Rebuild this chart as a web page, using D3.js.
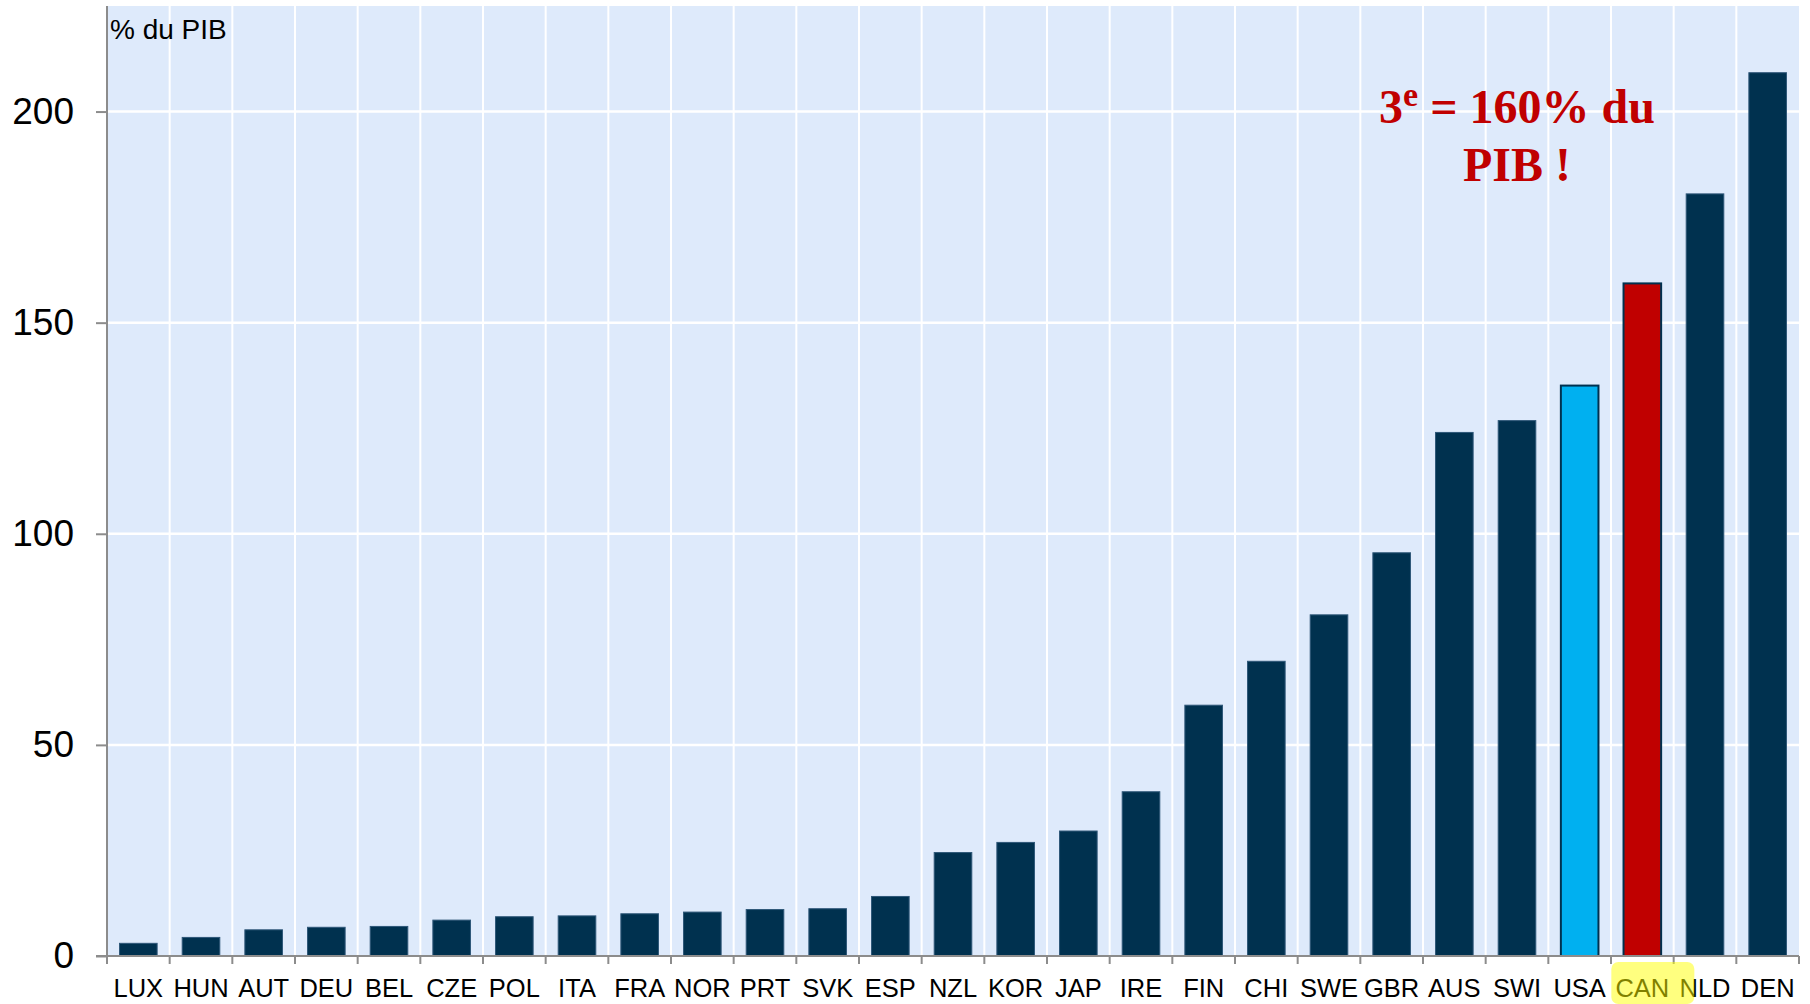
<!DOCTYPE html>
<html>
<head>
  <meta charset="utf-8">
  <script src="https://d3js.org/d3.v7.min.js"></script>
  <style>
    body { margin: 0; background: #fff; }
    svg { display: block; font-family: "Liberation Sans", Arial, sans-serif; }
  </style>
</head>
<body>
  <script>
    // data (% du PIB)
    var countries = ['LUX', 'HUN', 'AUT', 'DEU', 'BEL', 'CZE', 'POL', 'ITA', 'FRA', 'NOR', 'PRT', 'SVK', 'ESP',
      'NZL', 'KOR', 'JAP', 'IRE', 'FIN', 'CHI', 'SWE', 'GBR', 'AUS', 'SWI', 'USA', 'CAN', 'NLD', 'DEN'];
    var values = [3.0, 4.4, 6.2, 6.8, 7.0, 8.5, 9.3, 9.5, 10.0, 10.4, 11.0, 11.2, 14.1,
      24.5, 26.9, 29.6, 38.9, 59.4, 69.8, 80.8, 95.5, 124.0, 126.8, 135.1, 159.3, 180.5, 209.2];
    var yTicks = [0, 50, 100, 150, 200];
    var unitLabel = '% du PIB';
    var noteLine1 = ['3', 'e', ' = 160% du'];
    var noteLine2 = 'PIB !';
    var markedCountry = 'CAN';

    var outerWidth = 1810,
      outerHeight = 1004;

    var margin = { top: 6, left: 107, right: 11, bottom: 48 };
    var width = outerWidth - margin.left - margin.right,
      height = outerHeight - margin.top - margin.bottom;

    var data = countries.map(function(c, i) { return { name: c, value: values[i] }; });

    var xScale = d3.scaleBand()
      .domain(countries)
      .range([0, width])
      .paddingInner(0.4)
      .paddingOuter(0.2);

    var yScale = d3.scaleLinear()
      .domain([0, 225])
      .range([height, 0]);

    function barColor(d) {
      if (d.name === 'USA') return '#00b0f0';
      if (d.name === 'CAN') return '#c00000';
      return '#00314f';
    }

    var svg = d3.select('body').append('svg')
      .attr('width', outerWidth)
      .attr('height', outerHeight);

    var g = svg.append('g')
      .attr('transform', 'translate(' + margin.left + ',' + margin.top + ')');

    // plot background
    g.append('rect')
      .attr('width', width)
      .attr('height', height)
      .attr('fill', '#deeafb');

    // band boundaries for vertical grid + ticks
    var step = xScale.step();
    var bounds = d3.range(countries.length + 1).map(function(i) { return i * step; });

    g.selectAll('.vgrid').data(bounds.slice(1, -1)).enter().append('line')
      .attr('x1', function(d) { return d; })
      .attr('x2', function(d) { return d; })
      .attr('y1', 0).attr('y2', height)
      .attr('stroke', '#fff').attr('stroke-width', 2);

    g.selectAll('.hgrid').data(yTicks.slice(1)).enter().append('line')
      .attr('x1', 0).attr('x2', width)
      .attr('y1', function(d) { return yScale(d); })
      .attr('y2', function(d) { return yScale(d); })
      .attr('stroke', '#fff').attr('stroke-width', 2.5);

    // bars
    g.selectAll('.bar').data(data).enter().append('rect')
      .attr('x', function(d) { return xScale(d.name); })
      .attr('y', function(d) { return yScale(d.value); })
      .attr('width', xScale.bandwidth())
      .attr('height', function(d) { return height - yScale(d.value); })
      .attr('fill', barColor)
      .attr('stroke', function(d) { return (d.name === 'USA' || d.name === 'CAN') ? '#00314f' : '#2e5778'; })
      .attr('stroke-width', function(d) { return (d.name === 'USA' || d.name === 'CAN') ? 2 : 1; });

    // y axis
    var yAxis = d3.axisLeft(yScale)
      .tickValues(yTicks)
      .tickSize(11)
      .tickPadding(22);
    var yG = g.append('g').call(yAxis);
    yG.select('.domain').attr('stroke', '#8c8c8c').attr('stroke-width', 2)
      .attr('d', 'M0,0V' + height);
    yG.selectAll('.tick line').attr('stroke', '#8c8c8c').attr('stroke-width', 2);
    yG.selectAll('.tick text')
      .attr('font-size', 37)
      .attr('fill', '#000')
      .attr('font-family', '"Liberation Sans", Arial, sans-serif');

    // x axis line + ticks at band boundaries
    g.append('line')
      .attr('x1', -11).attr('x2', width)
      .attr('y1', height).attr('y2', height)
      .attr('stroke', '#8c8c8c').attr('stroke-width', 2);
    g.selectAll('.xtick').data(bounds).enter().append('line')
      .attr('x1', function(d) { return d; })
      .attr('x2', function(d) { return d; })
      .attr('y1', height).attr('y2', height + 8)
      .attr('stroke', '#8c8c8c').attr('stroke-width', 2);

    // x labels
    g.selectAll('.xlab').data(countries).enter().append('text')
      .attr('x', function(d) { return xScale(d) + xScale.bandwidth() / 2; })
      .attr('y', height + 41)
      .attr('text-anchor', 'middle')
      .attr('font-size', 25.5)
      .attr('fill', '#000')
      .text(function(d) { return d; });

    // yellow highlighter over CAN
    var cx = xScale(markedCountry) + xScale.bandwidth() / 2;
    g.append('rect')
      .attr('x', cx - 31)
      .attr('y', height + 6)
      .attr('width', 83)
      .attr('height', 42)
      .attr('rx', 7)
      .attr('fill', '#ffff00')
      .attr('opacity', 0.5);

    // unit label
    g.append('text')
      .attr('x', 3)
      .attr('y', 33)
      .attr('font-size', 28)
      .attr('fill', '#000')
      .text(unitLabel);

    // annotation
    var noteX = xScale('SWI') + xScale.bandwidth() / 2;
    var note = g.append('text')
      .attr('x', noteX)
      .attr('y', 117)
      .attr('text-anchor', 'middle')
      .attr('font-family', '"Liberation Serif", "Times New Roman", serif')
      .attr('font-weight', 'bold')
      .attr('font-size', 48)
      .attr('fill', '#c00000');
    note.append('tspan').text(noteLine1[0]);
    note.append('tspan').attr('font-size', 34).attr('dy', -17).text(noteLine1[1]);
    note.append('tspan').attr('dy', 17).text(noteLine1[2]);

    g.append('text')
      .attr('x', noteX)
      .attr('y', 175)
      .attr('text-anchor', 'middle')
      .attr('font-family', '"Liberation Serif", "Times New Roman", serif')
      .attr('font-weight', 'bold')
      .attr('font-size', 48)
      .attr('fill', '#c00000')
      .text(noteLine2);
  </script>
</body>
</html>
